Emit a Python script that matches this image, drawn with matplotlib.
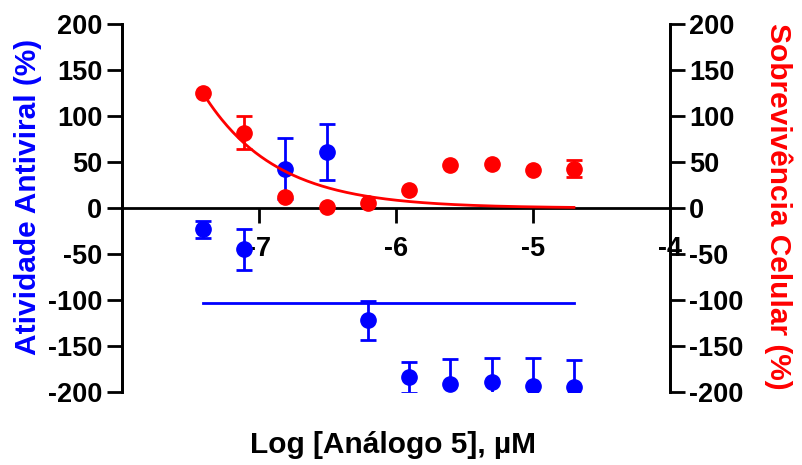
import numpy as np
import matplotlib.pyplot as plt

plt.rcParams['font.family'] = ['Liberation Sans', 'DejaVu Sans']
plt.rcParams['font.weight'] = 'bold'
plt.rcParams['axes.unicode_minus'] = False

# log concentration (M), twofold dilutions from 20 uM
log_conc = [-7.408, -7.107, -6.806, -6.505, -6.204, -5.903, -5.602, -5.301, -5.0, -4.699]

antiviral = [-23, -45, 43, 61, -122, -184, -191, -189, -193, -195]
antiviral_err = [9, 22, 33, 30, 21, 17, 27, 26, 30, 30]
antiviral_fit = -103  # constant fit

survival = [125, 82, 12, 1, 6, 20, 47, 48, 41, 43]
survival_err = [0, 18, 0, 0, 0, 0, 0, 0, 0, 9]
survival_top = 125     # decay fit, top value
survival_rate = 1.9    # decay rate per log unit

blue = '#0000ff'
red = '#ff0000'

fig = plt.figure(figsize=(8.02, 4.65), dpi=100)
ax = fig.add_axes([0.152, 0.157, 0.683, 0.791])
ax2 = ax.twinx()

for a in (ax, ax2):
    a.set_xlim(-8, -4)
    a.set_ylim(-200, 200)
    a.set_yticks(np.arange(-200, 201, 50))
    a.spines['top'].set_visible(False)
    for s in ('left', 'right'):
        a.spines[s].set_linewidth(2)
    a.tick_params(axis='y', length=11, width=2, labelsize=19.5, pad=3)

ax.spines['bottom'].set_position(('data', 0))
ax.spines['bottom'].set_linewidth(2)
ax2.spines['bottom'].set_visible(False)
ax.set_xticks([-7, -6, -5, -4])
ax.tick_params(axis='x', length=11, width=2, labelsize=19.5, pad=9)

# antiviral activity (left axis)
ax.errorbar(log_conc, antiviral, yerr=antiviral_err, fmt='o', color=blue,
            ms=11, elinewidth=2, capsize=6, capthick=2, zorder=3)
ax.plot([log_conc[0], log_conc[-1]], [antiviral_fit, antiviral_fit],
        color=blue, lw=2, zorder=2)

# cell survival (right axis); error bars only where replicates differ
ax2.plot(log_conc, survival, 'o', color=red, ms=11, zorder=3)
idx = [i for i, e in enumerate(survival_err) if e > 0]
ax2.errorbar([log_conc[i] for i in idx], [survival[i] for i in idx],
             yerr=[survival_err[i] for i in idx], fmt='none', ecolor=red,
             elinewidth=2, capsize=6, capthick=2, zorder=3)
xs = np.linspace(log_conc[0], log_conc[-1], 200)
ax2.plot(xs, survival_top * np.exp(-survival_rate * (xs - log_conc[0])),
         color=red, lw=2, zorder=2)

ax.set_ylabel('Atividade Antiviral (%)', color=blue, fontsize=21.5,
              fontweight='bold')
ax.yaxis.set_label_coords(-0.145, 0.53)
ax2.set_ylabel('Sobrevivência Celular (%)', color=red, fontsize=21.5,
               fontweight='bold', rotation=270, va='center')
ax2.yaxis.set_label_coords(1.198, 0.505)
fig.text(0.49, 0.043, 'Log [Análogo 5], µM', ha='center', va='center',
         fontsize=21.5, fontweight='bold')

fig.savefig('out.png', dpi=100)
